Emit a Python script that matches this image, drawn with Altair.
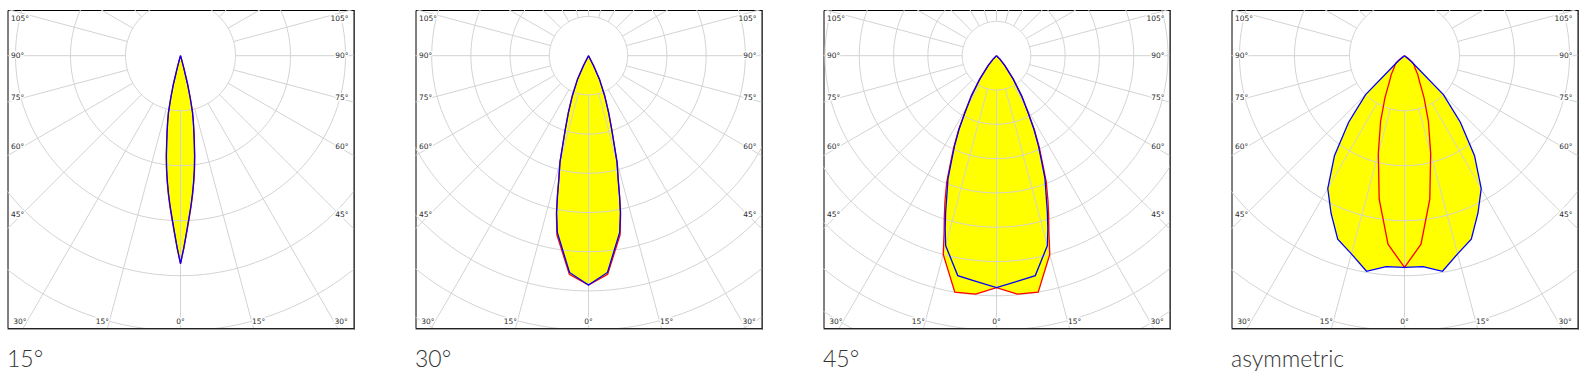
import math
import altair as alt
import pandas as pd

# ---------------- data ----------------
TITLES = ["15°", "30°", "45°", "asymmetric"]

# gamma angle (deg from the downward vertical) and intensity, in grid-circle units
P1_GAMMA = [0, 1, 2, 3, 4, 5, 6, 7, 8, 9, 10, 11, 12, 13, 14, 15, 16, 18, 90]
P1_BLUE = [3.78, 3.49, 3.20, 2.95, 2.73, 2.51, 2.29, 2.07, 1.84, 1.60, 1.40, 1.22, 1.05, 0.78, 0.53, 0.22, 0.07, 0, 0]
P1_RED = [3.78, 3.50, 3.22, 2.97, 2.75, 2.53, 2.31, 2.09, 1.86, 1.62, 1.41, 1.23, 1.05, 0.78, 0.53, 0.22, 0.07, 0, 0]

P2_GAMMA = [0, 5, 10, 11.5, 12.5, 13.5, 15, 16, 17.5, 19.5, 22, 25, 27, 30, 90]
P2_BLUE = [5.85, 5.55, 4.58, 4.08, 3.65, 3.24, 2.81, 2.40, 1.96, 1.53, 1.10, 0.66, 0.28, 0, 0]
P2_RED = [5.85, 5.60, 4.64, 4.11, 3.67, 3.25, 2.82, 2.41, 1.97, 1.54, 1.10, 0.66, 0.28, 0, 0]

P3_GAMMA = [0, 5, 10, 15, 16.5, 18, 19.5, 21.5, 23, 25, 27, 29, 32, 35.5, 40, 45, 50, 90]
P3_BLUE = [6.76, 6.61, 6.51, 5.73, 5.27, 4.80, 4.34, 3.86, 3.38, 2.89, 2.40, 1.90, 1.38, 0.84, 0.38, 0.14, 0, 0]
P3_RED = [6.76, 6.98, 7.00, 6.00, 5.38, 4.92, 4.50, 3.96, 3.46, 2.95, 2.44, 1.92, 1.39, 0.85, 0.38, 0.14, 0, 0]

P4_GAMMA = [0, 5, 10, 15, 20, 25, 30, 35, 40, 45, 50, 55, 60, 90]
P4_BLUE = [3.85, 3.85, 3.98, 3.73, 3.55, 3.16, 2.79, 2.22, 1.58, 1.00, 0.15, 0, 0, 0]
P4_RED = [3.85, 3.44, 2.65, 1.84, 1.27, 0.84, 0.55, 0.42, 0.30, 0.25, 0.20, 0.08, 0, 0]

GAMMAS = [P1_GAMMA, P2_GAMMA, P3_GAMMA, P4_GAMMA]
BLUES = [P1_BLUE, P2_BLUE, P3_BLUE, P4_BLUE]
REDS = [P1_RED, P2_RED, P3_RED, P4_RED]

SIDE_LABELS = ["105°", "90°", "75°", "60°", "45°"]
SIDE_ANGLES = [105, 90, 75, 60, 45]
BOTTOM_LABELS = ["30°", "15°", "0°", "15°", "30°"]
BOTTOM_ANGLES = [-30, -15, 0, 15, 30]

GRID_RINGS = list(range(1, 13))
GRID_SPOKES = list(range(0, 360, 15))

# ---------------- layout / style ----------------
W, H = 346, 318          # box size in px
CX, CY = 173, 45.7       # pole position inside the box (px)
STEP_PX = [55, 39.2, 34.3, 55]   # px per grid circle, per panel
GRID_COLOR = "#d3d3d3"
BLUE = "#0000ff"
RED = "#ff0000"
YELLOW = "#ffff00"

XY = {"x": "datum.r*sin(datum.s*PI/180)", "y": "-datum.r*cos(datum.s*PI/180)"}


def curve_frame(gamma, vals, name):
    rows = []
    for g, r in zip(gamma, vals):
        rows.append({"curve": name, "s": -g, "r": r})
        if g != 0:
            rows.append({"curve": name, "s": g, "r": r})
    return pd.DataFrame(rows)


def panel(i):
    s = STEP_PX[i]
    xs = alt.Scale(domain=[-CX / s, (W - CX) / s], nice=False, zero=False)
    ys = alt.Scale(domain=[-(H - CY) / s, CY / s], nice=False, zero=False)
    X = lambda f: alt.X(f, type="quantitative", scale=xs, axis=None)
    Y = lambda f: alt.Y(f, type="quantitative", scale=ys, axis=None)

    blue = curve_frame(GAMMAS[i], BLUES[i], "blue")
    red = curve_frame(GAMMAS[i], REDS[i], "red")
    both = pd.concat([blue, red], ignore_index=True)

    fill = alt.Chart(both).transform_calculate(**XY).mark_line(
        fill=YELLOW, strokeOpacity=0, strokeWidth=0
    ).encode(x=X("x"), y=Y("y"), detail="curve:N", order="s:Q")

    ring_rows = [{"k": k, "t": t} for k in GRID_RINGS for t in range(0, 361, 2)]
    rings = alt.Chart(pd.DataFrame(ring_rows)).transform_calculate(
        x="datum.k*sin(datum.t*PI/180)", y="-datum.k*cos(datum.t*PI/180)"
    ).mark_line(color=GRID_COLOR, strokeWidth=1, clip=True).encode(
        x=X("x"), y=Y("y"), detail="k:N", order="t:Q"
    )

    spokes = alt.Chart(pd.DataFrame({"a": GRID_SPOKES})).transform_calculate(
        x="sin(datum.a*PI/180)", y="-cos(datum.a*PI/180)",
        xe="30*sin(datum.a*PI/180)", ye="-30*cos(datum.a*PI/180)",
    ).mark_rule(color=GRID_COLOR, strokeWidth=1, clip=True).encode(
        x=X("x"), y=Y("y"), x2="xe:Q", y2="ye:Q"
    )

    red_line = alt.Chart(red).transform_calculate(**XY).mark_line(
        color=RED, strokeWidth=1.3
    ).encode(x=X("x"), y=Y("y"), order="s:Q")
    blue_line = alt.Chart(blue).transform_calculate(**XY).mark_line(
        color=BLUE, strokeWidth=1.3
    ).encode(x=X("x"), y=Y("y"), order="s:Q")

    # degree labels
    lab = []
    for t, a in zip(SIDE_LABELS, SIDE_ANGLES):
        yd = 159 * math.cos(math.radians(a)) / math.sin(math.radians(a))
        yd = max(yd, -CY + 9)
        lab.append({"t": t, "x": (-CX + 3.5) / s, "y": -yd / s, "al": "left"})
        lab.append({"t": t, "x": (W - CX - 5) / s, "y": -yd / s, "al": "right"})
    yb = H - CY - 5.6
    for t, a in zip(BOTTOM_LABELS, BOTTOM_ANGLES):
        xd = yb * math.tan(math.radians(a))
        al = "center" if a == 0 else ("right" if a < 0 else "left")
        lab.append({"t": t, "x": xd / s, "y": -yb / s, "al": al})
    labdf = pd.DataFrame(lab)

    text_layers = []
    for al in ["left", "right", "center"]:
        sub = labdf[labdf["al"] == al]
        base = alt.Chart(sub).encode(x=X("x"), y=Y("y"), text="t:N")
        text_layers.append(base.mark_text(
            align=al, baseline="middle", font="DejaVu Sans", fontSize=7.5,
            stroke="white", strokeWidth=3, color="white"))
    for al in ["left", "right", "center"]:
        sub = labdf[labdf["al"] == al]
        base = alt.Chart(sub).encode(x=X("x"), y=Y("y"), text="t:N")
        text_layers.append(base.mark_text(
            align=al, baseline="middle", font="DejaVu Sans", fontSize=7.5,
            color="#2a2a2a"))

    edge_r = alt.Chart(pd.DataFrame({"v": [0]})).mark_rule(
        color="#444444", strokeWidth=1).encode(
        x=alt.value(W + 1), y=alt.value(0), y2=alt.value(H + 1.5))
    edge_b = alt.Chart(pd.DataFrame({"v": [0]})).mark_rule(
        color="#444444", strokeWidth=1).encode(
        y=alt.value(H + 1), x=alt.value(0), x2=alt.value(W + 1.5))

    return alt.layer(
        fill, rings, spokes, red_line, blue_line, *text_layers, edge_r, edge_b
    ).properties(
        width=W, height=H,
        title=alt.TitleParams(
            TITLES[i], orient="bottom", anchor="start", font="Lato",
            fontSize=23, fontWeight=300, color="#333333", offset=19),
    )


chart = alt.hconcat(*[panel(i) for i in range(4)], spacing=58).configure_view(
    stroke="#000000", strokeWidth=1
).properties(padding={"left": 6.5, "top": 9, "right": 0, "bottom": 0})

chart.save("out.html", embed_options={"renderer": "svg", "actions": False})
